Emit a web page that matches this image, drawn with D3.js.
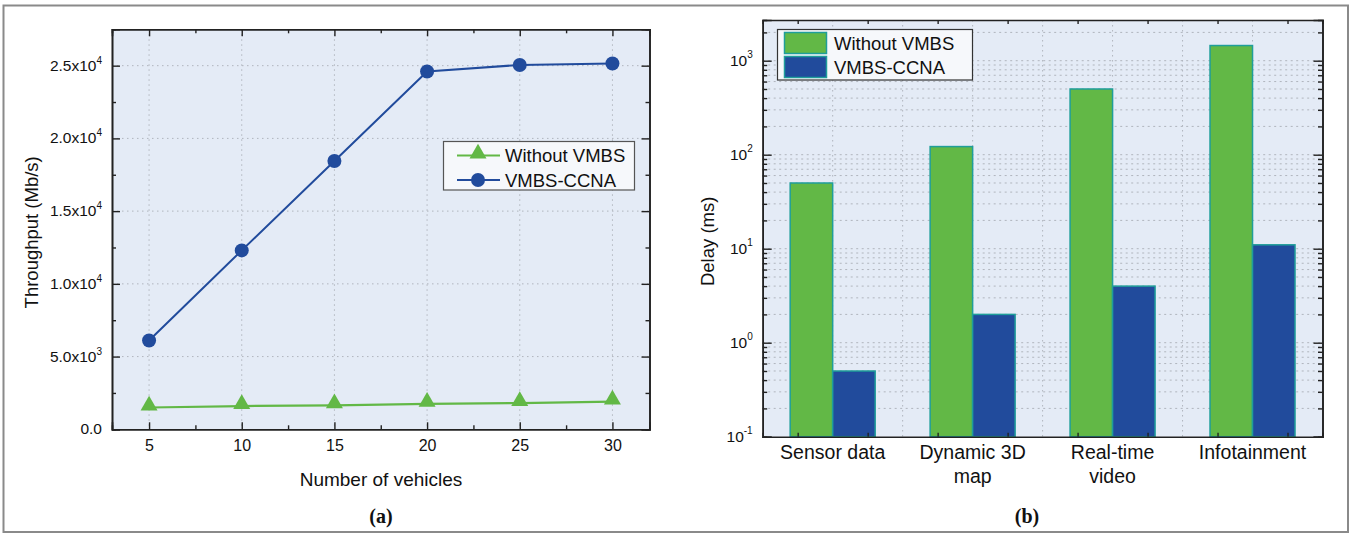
<!DOCTYPE html>
<html><head><meta charset="utf-8">
<script src="https://cdn.jsdelivr.net/npm/d3@7"></script>
<style>
body{margin:0;background:#fff;}
svg{display:block;font-family:"Liberation Sans",Arial,sans-serif;}
</style></head>
<body>
<svg id="chart" width="1356" height="534"></svg>
<script>
// ---- Data: panel (a) ----
const vehicles = [5, 10, 15, 20, 25, 30];
const thrWithout = [1500, 1600, 1650, 1750, 1800, 1900];
const thrCCNA = [6100, 12300, 18450, 24600, 25050, 25150];
const thrTicks = [0, 5000, 10000, 15000, 20000, 25000];
const thrTickLabels = [["0.0",""],["5.0x10","3"],["1.0x10","4"],["1.5x10","4"],["2.0x10","4"],["2.5x10","4"]];
const xTicks = [5, 10, 15, 20, 25, 30];
// ---- Data: panel (b) ----
const categories = ["Sensor data", "Dynamic 3D map", "Real-time video", "Infotainment"];
const categoryLines = [["Sensor data"], ["Dynamic 3D","map"], ["Real-time","video"], ["Infotainment"]];
const delayWithout = [50, 122, 500, 1450];
const delayCCNA = [0.5, 2, 4, 11];
const seriesNames = ["Without VMBS", "VMBS-CCNA"];
const logTicks = [0.1, 1, 10, 100, 1000];
const logTickLabels = [["10","-1"],["10","0"],["10","1"],["10","2"],["10","3"]];

const GREEN = "#62b846", BLUE = "#214b9c", BG = "#e4ebf6", GRID = "#b0b5bd", TEAL = "#1f9e9a";
const svg = d3.select("#chart");

// outer frame
svg.append("rect").attr("x",3.5).attr("y",5.5).attr("width",1344.5).attr("height",526.5)
  .attr("fill","none").attr("stroke","#8a8a8a").attr("stroke-width",2);

// ================= Panel (a) =================
const A = {l:112, r:649.5, t:29.3, b:429.3};
const xA = d3.scaleLinear().domain([3,32]).range([A.l, A.r]);
const yA = d3.scaleLinear().domain([0,27500]).range([A.b, A.t]);
const gA = svg.append("g");
gA.append("rect").attr("x",A.l).attr("y",A.t).attr("width",A.r-A.l).attr("height",A.b-A.t).attr("fill",BG);
// grid
gA.selectAll(".gx").data(xTicks).join("line").attr("x1",d=>xA(d)).attr("x2",d=>xA(d))
  .attr("y1",A.t).attr("y2",A.b).attr("stroke",GRID).attr("stroke-dasharray","1.5,3.5");
gA.selectAll(".gy").data(thrTicks.slice(1)).join("line").attr("y1",d=>yA(d)).attr("y2",d=>yA(d))
  .attr("x1",A.l).attr("x2",A.r).attr("stroke",GRID).attr("stroke-dasharray","1.5,3.5");
// axes (inward ticks)
const minorX = d3.range(2.5, 32, 2.5).filter(v=>v>3 && !xTicks.includes(v));
const minorY = d3.range(2500, 27500, 5000);
gA.append("g").attr("transform",`translate(0,${A.b})`)
  .call(d3.axisBottom(xA).tickValues(xTicks).tickSize(-7).tickPadding(10).tickFormat(d3.format("d")))
  .call(g=>g.selectAll("text").attr("font-size",16).attr("fill","#111").attr("font-family","Liberation Sans, Arial"));
gA.append("g").attr("transform",`translate(0,${A.b})`).call(d3.axisBottom(xA).tickValues(minorX).tickSize(-4).tickFormat(""));
gA.append("g").attr("transform",`translate(0,${A.t})`).call(d3.axisTop(xA).tickValues(xTicks).tickSize(-7).tickFormat(""));
gA.append("g").attr("transform",`translate(0,${A.t})`).call(d3.axisTop(xA).tickValues(minorX).tickSize(-4).tickFormat(""));
gA.append("g").attr("transform",`translate(${A.l},0)`)
  .call(d3.axisLeft(yA).tickValues(thrTicks).tickSize(-8).tickFormat(""));
gA.append("g").attr("transform",`translate(${A.l},0)`).call(d3.axisLeft(yA).tickValues(minorY).tickSize(-4).tickFormat(""));
gA.append("g").attr("transform",`translate(${A.r},0)`).call(d3.axisRight(yA).tickValues(thrTicks).tickSize(-8).tickFormat(""));
gA.append("g").attr("transform",`translate(${A.r},0)`).call(d3.axisRight(yA).tickValues(minorY).tickSize(-4).tickFormat(""));
gA.selectAll(".domain").attr("stroke","#222").attr("stroke-width",1.6);
gA.selectAll(".tick line").attr("stroke","#222").attr("stroke-width",1.4);
// y tick labels with superscripts
const ylab = gA.selectAll(".ylab").data(thrTicks).join("text")
  .attr("x",A.l-10).attr("y",d=>yA(d)+5).attr("text-anchor","end").attr("font-size",15.5).attr("fill","#111");
ylab.each(function(d,i){
  const t=d3.select(this); const lb=thrTickLabels[i];
  t.append("tspan").text(lb[0]);
  if(lb[1]) t.append("tspan").attr("dy",-7).attr("font-size",10).text(lb[1]);
});
// lines
const lineA = d3.line().x((d,i)=>xA(vehicles[i])).y(d=>yA(d));
gA.append("path").datum(thrWithout).attr("d",lineA).attr("fill","none").attr("stroke",GREEN).attr("stroke-width",2.2);
gA.append("path").datum(thrCCNA).attr("d",lineA).attr("fill","none").attr("stroke",BLUE).attr("stroke-width",2);
const tri = d3.symbol().type(d3.symbolTriangle).size(125);
gA.selectAll(".tri").data(thrWithout).join("path").attr("d",tri)
  .attr("transform",(d,i)=>`translate(${xA(vehicles[i])},${yA(d)-2})`).attr("fill",GREEN);
gA.selectAll(".cir").data(thrCCNA).join("circle").attr("cx",(d,i)=>xA(vehicles[i])).attr("cy",d=>yA(d))
  .attr("r",7).attr("fill",BLUE);
// titles
svg.append("text").attr("transform",`translate(38,${(A.t+A.b)/2+3}) rotate(-90)`).attr("text-anchor","middle")
  .attr("font-size",18.5).attr("fill","#111").text("Throughput (Mb/s)");
svg.append("text").attr("x",381).attr("y",486).attr("text-anchor","middle").attr("font-size",19).attr("fill","#111").text("Number of vehicles");
svg.append("text").attr("x",381).attr("y",523).attr("text-anchor","middle").attr("font-size",20).attr("font-weight","bold")
  .attr("font-family","Liberation Serif, Times New Roman, serif").attr("fill","#111").text("(a)");
// legend a
const LA = gA.append("g");
LA.append("rect").attr("x",443.5).attr("y",141.5).attr("width",191).attr("height",48.5).attr("fill","#f6f8fb").attr("stroke","#555").attr("stroke-width",1.2);
[[thrWithout,GREEN,"tri"],[thrCCNA,BLUE,"cir"]].forEach((s,i)=>{
  const yy = 155.5 + i*24.5;
  LA.append("line").attr("x1",457).attr("x2",500).attr("y1",yy).attr("y2",yy).attr("stroke",s[1]).attr("stroke-width",2);
  if(s[2]==="tri") LA.append("path").attr("d",tri).attr("transform",`translate(478,${yy-2})`).attr("fill",s[1]);
  else LA.append("circle").attr("cx",478).attr("cy",yy).attr("r",7).attr("fill",s[1]);
  LA.append("text").attr("x",505).attr("y",yy+6.5).attr("font-size",18.5).attr("fill","#111").text(seriesNames[i]);
});

// ================= Panel (b) =================
const B = {l:762.7, r:1322.5, t:20, b:436.7};
const xB = d3.scaleBand().domain(categories).range([B.l, B.r]).padding(0);
const bw = xB.bandwidth();
const xInner = d3.scaleBand().domain(seriesNames).range([bw/2-42.5, bw/2+42.5]).padding(0);
const yB = d3.scaleLog().domain([0.1, 2710]).range([B.b, B.t]);
const gB = svg.append("g");
gB.append("rect").attr("x",B.l).attr("y",B.t).attr("width",B.r-B.l).attr("height",B.b-B.t).attr("fill",BG);
const logAll = [];
for (let e=-1; e<=3; e++) for (let m=1; m<=9; m++){ const v=m*Math.pow(10,e); if(v<=2710) logAll.push(v); }
gB.selectAll(".gy").data(logAll.filter(v=>v>0.1)).join("line").attr("x1",B.l).attr("x2",B.r)
  .attr("y1",d=>yB(d)).attr("y2",d=>yB(d)).attr("stroke",GRID).attr("stroke-dasharray","2,3.5");
const vgrid = [];
categories.forEach((c,i)=>{ vgrid.push(xB(c)+bw/2); if(i>0) vgrid.push(xB(c)); });
gB.selectAll(".gx").data(vgrid).join("line").attr("x1",d=>d).attr("x2",d=>d).attr("y1",B.t).attr("y2",B.b)
  .attr("stroke",GRID).attr("stroke-dasharray","1.5,3.5");
// bars
const series = [delayWithout, delayCCNA];
const colors = [GREEN, BLUE];
series.forEach((vals,si)=>{
  gB.selectAll(".bar"+si).data(vals).join("rect")
    .attr("x",(d,i)=>xB(categories[i])+xInner(seriesNames[si]))
    .attr("width",xInner.bandwidth())
    .attr("y",d=>yB(d)).attr("height",d=>B.b-yB(d))
    .attr("fill",colors[si]).attr("stroke",TEAL).attr("stroke-width",1.5);
});
// axes
const minorLog = logAll.filter(v=>!logTicks.includes(v));
gB.append("g").attr("transform",`translate(${B.l},0)`).call(d3.axisLeft(yB).tickValues(logTicks).tickSize(-9).tickFormat(""));
gB.append("g").attr("transform",`translate(${B.l},0)`).call(d3.axisLeft(yB).tickValues(minorLog).tickSize(-4.5).tickFormat(""));
gB.append("g").attr("transform",`translate(${B.r},0)`).call(d3.axisRight(yB).tickValues(logTicks).tickSize(-9).tickFormat(""));
gB.append("g").attr("transform",`translate(${B.r},0)`).call(d3.axisRight(yB).tickValues(minorLog).tickSize(-4.5).tickFormat(""));
const xq = d3.scaleLinear().domain([0,16]).range([B.l,B.r]);
const qTicks = [1,3,5,7,9,11,13,15];
gB.append("g").attr("transform",`translate(0,${B.b})`).call(d3.axisBottom(xq).tickValues(qTicks).tickSize(-4).tickFormat(""));
gB.append("g").attr("transform",`translate(0,${B.t})`).call(d3.axisTop(xq).tickValues(qTicks).tickSize(-4).tickFormat(""));
gB.selectAll(".domain").attr("stroke","#222").attr("stroke-width",1.6);
gB.selectAll(".tick line").attr("stroke","#222").attr("stroke-width",1.4);
const ylB = gB.selectAll(".ylab").data(logTicks).join("text")
  .attr("x",B.l-10).attr("y",d=>yB(d)+5).attr("text-anchor","end").attr("font-size",15.5).attr("fill","#111");
ylB.each(function(d,i){
  const t=d3.select(this); const lb=logTickLabels[i];
  t.append("tspan").text(lb[0]);
  t.append("tspan").attr("dy",-8).attr("font-size",10).text(lb[1]);
});
// category labels
categories.forEach((c,i)=>{
  const t = gB.append("text").attr("text-anchor","middle").attr("font-size",19.5).attr("fill","#111");
  categoryLines[i].forEach((ln,j)=>{
    t.append("tspan").attr("x",xB(c)+bw/2).attr("y",459+j*23.5).text(ln);
  });
});
svg.append("text").attr("transform",`translate(714,${(B.t+B.b)/2+13}) rotate(-90)`).attr("text-anchor","middle")
  .attr("font-size",18.5).attr("fill","#111").text("Delay (ms)");
svg.append("text").attr("x",1027).attr("y",523).attr("text-anchor","middle").attr("font-size",20).attr("font-weight","bold")
  .attr("font-family","Liberation Serif, Times New Roman, serif").attr("fill","#111").text("(b)");
// legend b
const LB = gB.append("g");
LB.append("rect").attr("x",777.5).attr("y",29.5).attr("width",195).attr("height",50.5).attr("fill","#f6f8fb").attr("stroke","#333").attr("stroke-width",1.2);
seriesNames.forEach((n,i)=>{
  const yy = 32.5 + i*24;
  LB.append("rect").attr("x",784.5).attr("y",yy).attr("width",42).attr("height",21).attr("fill",colors[i]).attr("stroke",TEAL).attr("stroke-width",1.5);
  LB.append("text").attr("x",834).attr("y",yy+17).attr("font-size",18.5).attr("fill","#111").text(n);
});
</script>
</body></html>
